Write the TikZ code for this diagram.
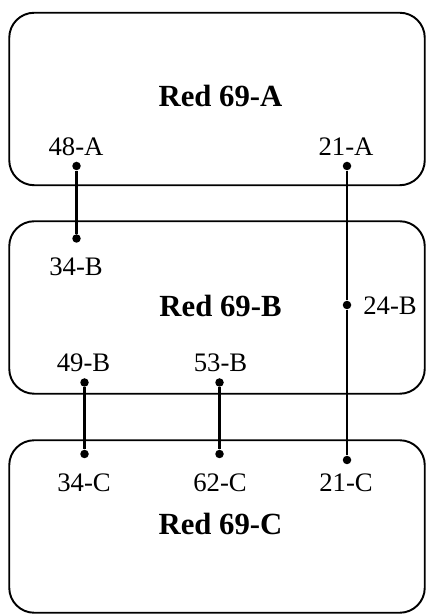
\documentclass[tikz,border=0pt]{standalone}
\usepackage{fontspec}
\setmainfont{Liberation Serif}
\tikzset{
  netbox/.style={draw, rounded corners=0.5cm, line width=1.1pt,
    minimum width=8.31cm, minimum height=3.45cm, inner sep=0pt},
  nettitle/.style={font=\fontsize{17.5}{20}\selectfont\bfseries},
  portlbl/.style={font=\fontsize{15.2}{18}\selectfont},
  port/.style={circle, fill, inner sep=0pt, minimum size=0.17cm},
  link/.style={line width=1.5pt}
}
\begin{document}
\begin{tikzpicture}
    \useasboundingbox (0,0) rectangle (8.52,12.28);
    % the three networks
    \node[netbox] (boxA) at (4.34,10.30) {};
    \node[netbox] (boxB) at (4.34,6.13) {};
    \node[netbox] (boxC) at (4.34,1.75) {};
    \node[nettitle] (redA) at (4.41,10.36) {Red 69-A};
    \node[nettitle] (redB) at (4.41,6.16) {Red 69-B};
    \node[nettitle] (redC) at (4.41,1.80) {Red 69-C};

    % ports
    \node[port] (p48A) at (1.53,8.96) {};
    \node[port] (p21A) at (6.94,8.96) {};
    \node[port] (p34B) at (1.53,7.51) {};
    \node[port] (p24B) at (6.94,6.18) {};
    \node[port] (p49B) at (1.69,4.63) {};
    \node[port] (p53B) at (4.39,4.63) {};
    \node[port] (p34C) at (1.69,3.20) {};
    \node[port] (p62C) at (4.39,3.20) {};
    \node[port] (p21C) at (6.94,3.08) {};

    \node[portlbl] (l48A) at (1.52,9.34) {48-A};
    \node[portlbl] (l21A) at (6.92,9.34) {21-A};
    \node[portlbl] (l34B) at (1.52,6.95) {34-B};
    \node[portlbl] (l24B) at (7.80,6.16) {24-B};
    \node[portlbl] (l49B) at (1.67,5.02) {49-B};
    \node[portlbl] (l53B) at (4.41,5.02) {53-B};
    \node[portlbl] (l34C) at (1.68,2.63) {34-C};
    \node[portlbl] (l62C) at (4.40,2.63) {62-C};
    \node[portlbl] (l21C) at (6.92,2.63) {21-C};

    % links
    \draw[link] (p48A) -- (p34B);
    \draw[link] (p21A) -- (p24B) -- (p21C);
    \draw[link] (p49B) -- (p34C);
    \draw[link] (p53B) -- (p62C);
\end{tikzpicture}
\end{document}
